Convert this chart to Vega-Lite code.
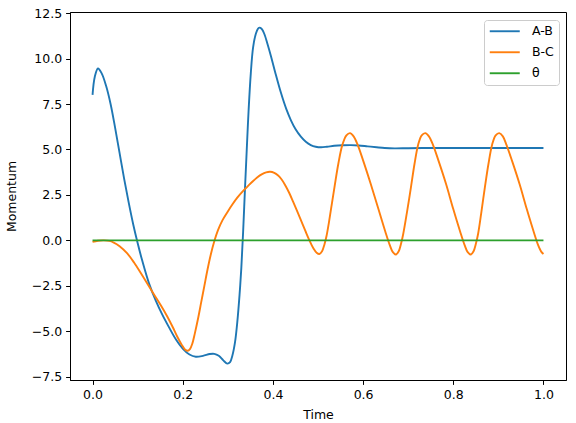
{
  "$schema": "https://vega.github.io/schema/vega-lite/v6.json",
  "width": 496,
  "height": 368,
  "autosize": "none",
  "padding": {"left": 70, "top": 12, "right": 10, "bottom": 43},
  "background": "white",
  "config": {
    "view": {"stroke": "black", "strokeWidth": 1},
    "axis": {
      "grid": false,
      "domainColor": "black",
      "domainWidth": 1,
      "tickColor": "black",
      "tickWidth": 1,
      "tickSize": 4.4,
      "labelFont": "DejaVu Sans",
      "labelFontSize": 12.5,
      "labelColor": "black",
      "labelPadding": 4,
      "titleFont": "DejaVu Sans",
      "titleFontSize": 12.5,
      "titleFontWeight": "normal",
      "titleColor": "black"
    },
    "legend": {
      "orient": "top-right",
      "offset": 7.5,
      "padding": 5,
      "strokeColor": "#cccccc",
      "strokeWidth": 1,
      "fillColor": "white",
      "cornerRadius": 3,
      "symbolType": "M-3,0H3",
      "symbolSize": 100,
      "symbolOffset": 9.5,
      "symbolStrokeWidth": 1.9,
      "labelFont": "DejaVu Sans",
      "labelFontSize": 12.5,
      "labelColor": "black",
      "labelOffset": 21,
      "rowPadding": 8
    }
  },
  "data": {
    "values": [
      {"t": 0, "v": 8.0, "s": "A-B"},
      {"t": 0.005, "v": 9.0, "s": "A-B"},
      {"t": 0.012, "v": 9.45, "s": "A-B"},
      {"t": 0.02, "v": 9.2, "s": "A-B"},
      {"t": 0.03, "v": 8.5, "s": "A-B"},
      {"t": 0.04, "v": 7.5, "s": "A-B"},
      {"t": 0.05, "v": 6.2, "s": "A-B"},
      {"t": 0.06, "v": 4.8, "s": "A-B"},
      {"t": 0.07, "v": 3.4, "s": "A-B"},
      {"t": 0.08, "v": 2.1, "s": "A-B"},
      {"t": 0.09, "v": 0.9, "s": "A-B"},
      {"t": 0.1, "v": -0.15, "s": "A-B"},
      {"t": 0.11, "v": -1.1, "s": "A-B"},
      {"t": 0.125, "v": -2.35, "s": "A-B"},
      {"t": 0.14, "v": -3.3, "s": "A-B"},
      {"t": 0.155, "v": -4.1, "s": "A-B"},
      {"t": 0.17, "v": -4.8, "s": "A-B"},
      {"t": 0.185, "v": -5.45, "s": "A-B"},
      {"t": 0.2, "v": -5.95, "s": "A-B"},
      {"t": 0.215, "v": -6.28, "s": "A-B"},
      {"t": 0.229, "v": -6.4, "s": "A-B"},
      {"t": 0.245, "v": -6.35, "s": "A-B"},
      {"t": 0.26, "v": -6.25, "s": "A-B"},
      {"t": 0.27, "v": -6.24, "s": "A-B"},
      {"t": 0.28, "v": -6.35, "s": "A-B"},
      {"t": 0.29, "v": -6.6, "s": "A-B"},
      {"t": 0.299, "v": -6.78, "s": "A-B"},
      {"t": 0.305, "v": -6.7, "s": "A-B"},
      {"t": 0.31, "v": -6.35, "s": "A-B"},
      {"t": 0.316, "v": -5.6, "s": "A-B"},
      {"t": 0.321, "v": -4.5, "s": "A-B"},
      {"t": 0.326, "v": -3.0, "s": "A-B"},
      {"t": 0.33, "v": -1.5, "s": "A-B"},
      {"t": 0.334, "v": 0.5, "s": "A-B"},
      {"t": 0.338, "v": 2.8, "s": "A-B"},
      {"t": 0.342, "v": 5.0, "s": "A-B"},
      {"t": 0.346, "v": 7.1, "s": "A-B"},
      {"t": 0.351, "v": 9.2, "s": "A-B"},
      {"t": 0.356, "v": 10.6, "s": "A-B"},
      {"t": 0.362, "v": 11.35, "s": "A-B"},
      {"t": 0.367, "v": 11.65, "s": "A-B"},
      {"t": 0.371, "v": 11.7, "s": "A-B"},
      {"t": 0.376, "v": 11.6, "s": "A-B"},
      {"t": 0.381, "v": 11.35, "s": "A-B"},
      {"t": 0.388, "v": 10.8, "s": "A-B"},
      {"t": 0.396, "v": 10.1, "s": "A-B"},
      {"t": 0.405, "v": 9.25, "s": "A-B"},
      {"t": 0.418, "v": 8.1, "s": "A-B"},
      {"t": 0.43, "v": 7.2, "s": "A-B"},
      {"t": 0.44, "v": 6.6, "s": "A-B"},
      {"t": 0.45, "v": 6.12, "s": "A-B"},
      {"t": 0.462, "v": 5.7, "s": "A-B"},
      {"t": 0.473, "v": 5.42, "s": "A-B"},
      {"t": 0.484, "v": 5.24, "s": "A-B"},
      {"t": 0.495, "v": 5.15, "s": "A-B"},
      {"t": 0.507, "v": 5.12, "s": "A-B"},
      {"t": 0.52, "v": 5.15, "s": "A-B"},
      {"t": 0.536, "v": 5.2, "s": "A-B"},
      {"t": 0.555, "v": 5.23, "s": "A-B"},
      {"t": 0.573, "v": 5.24, "s": "A-B"},
      {"t": 0.59, "v": 5.22, "s": "A-B"},
      {"t": 0.61, "v": 5.17, "s": "A-B"},
      {"t": 0.63, "v": 5.12, "s": "A-B"},
      {"t": 0.648, "v": 5.08, "s": "A-B"},
      {"t": 0.67, "v": 5.06, "s": "A-B"},
      {"t": 0.7, "v": 5.07, "s": "A-B"},
      {"t": 0.75, "v": 5.08, "s": "A-B"},
      {"t": 0.8, "v": 5.08, "s": "A-B"},
      {"t": 0.85, "v": 5.08, "s": "A-B"},
      {"t": 0.9, "v": 5.08, "s": "A-B"},
      {"t": 0.95, "v": 5.08, "s": "A-B"},
      {"t": 1.0, "v": 5.08, "s": "A-B"},

      {"t": 0, "v": -0.08, "s": "B-C"},
      {"t": 0.012, "v": -0.02, "s": "B-C"},
      {"t": 0.025, "v": 0.0, "s": "B-C"},
      {"t": 0.037, "v": -0.03, "s": "B-C"},
      {"t": 0.047, "v": -0.12, "s": "B-C"},
      {"t": 0.06, "v": -0.32, "s": "B-C"},
      {"t": 0.077, "v": -0.72, "s": "B-C"},
      {"t": 0.092, "v": -1.22, "s": "B-C"},
      {"t": 0.107, "v": -1.8, "s": "B-C"},
      {"t": 0.122, "v": -2.4, "s": "B-C"},
      {"t": 0.137, "v": -3.0, "s": "B-C"},
      {"t": 0.152, "v": -3.6, "s": "B-C"},
      {"t": 0.166, "v": -4.2, "s": "B-C"},
      {"t": 0.178, "v": -4.78, "s": "B-C"},
      {"t": 0.188, "v": -5.3, "s": "B-C"},
      {"t": 0.198, "v": -5.75, "s": "B-C"},
      {"t": 0.205, "v": -6.0, "s": "B-C"},
      {"t": 0.211, "v": -6.07, "s": "B-C"},
      {"t": 0.216, "v": -5.98, "s": "B-C"},
      {"t": 0.221, "v": -5.7, "s": "B-C"},
      {"t": 0.227, "v": -5.1, "s": "B-C"},
      {"t": 0.234, "v": -4.3, "s": "B-C"},
      {"t": 0.241, "v": -3.4, "s": "B-C"},
      {"t": 0.248, "v": -2.5, "s": "B-C"},
      {"t": 0.255, "v": -1.6, "s": "B-C"},
      {"t": 0.262, "v": -0.8, "s": "B-C"},
      {"t": 0.27, "v": -0.05, "s": "B-C"},
      {"t": 0.278, "v": 0.55, "s": "B-C"},
      {"t": 0.288, "v": 1.1, "s": "B-C"},
      {"t": 0.299, "v": 1.55, "s": "B-C"},
      {"t": 0.31, "v": 1.97, "s": "B-C"},
      {"t": 0.321, "v": 2.35, "s": "B-C"},
      {"t": 0.333, "v": 2.7, "s": "B-C"},
      {"t": 0.344, "v": 2.97, "s": "B-C"},
      {"t": 0.355, "v": 3.24, "s": "B-C"},
      {"t": 0.365, "v": 3.46, "s": "B-C"},
      {"t": 0.375, "v": 3.63, "s": "B-C"},
      {"t": 0.385, "v": 3.74, "s": "B-C"},
      {"t": 0.394, "v": 3.77, "s": "B-C"},
      {"t": 0.403, "v": 3.71, "s": "B-C"},
      {"t": 0.411, "v": 3.58, "s": "B-C"},
      {"t": 0.419, "v": 3.36, "s": "B-C"},
      {"t": 0.427, "v": 3.05, "s": "B-C"},
      {"t": 0.436, "v": 2.62, "s": "B-C"},
      {"t": 0.445, "v": 2.12, "s": "B-C"},
      {"t": 0.454, "v": 1.6, "s": "B-C"},
      {"t": 0.463, "v": 1.06, "s": "B-C"},
      {"t": 0.472, "v": 0.52, "s": "B-C"},
      {"t": 0.481, "v": 0.0, "s": "B-C"},
      {"t": 0.49, "v": -0.45, "s": "B-C"},
      {"t": 0.497, "v": -0.68, "s": "B-C"},
      {"t": 0.503, "v": -0.75, "s": "B-C"},
      {"t": 0.509, "v": -0.6, "s": "B-C"},
      {"t": 0.514, "v": -0.25, "s": "B-C"},
      {"t": 0.519, "v": 0.25, "s": "B-C"},
      {"t": 0.524, "v": 0.95, "s": "B-C"},
      {"t": 0.53, "v": 1.9, "s": "B-C"},
      {"t": 0.537, "v": 3.0, "s": "B-C"},
      {"t": 0.545, "v": 4.2, "s": "B-C"},
      {"t": 0.554, "v": 5.25, "s": "B-C"},
      {"t": 0.563, "v": 5.78, "s": "B-C"},
      {"t": 0.571, "v": 5.9, "s": "B-C"},
      {"t": 0.579, "v": 5.72, "s": "B-C"},
      {"t": 0.588, "v": 5.25, "s": "B-C"},
      {"t": 0.6, "v": 4.4, "s": "B-C"},
      {"t": 0.617, "v": 3.1, "s": "B-C"},
      {"t": 0.634, "v": 1.72, "s": "B-C"},
      {"t": 0.649, "v": 0.5, "s": "B-C"},
      {"t": 0.659, "v": -0.25, "s": "B-C"},
      {"t": 0.666, "v": -0.65, "s": "B-C"},
      {"t": 0.673, "v": -0.78, "s": "B-C"},
      {"t": 0.679, "v": -0.6, "s": "B-C"},
      {"t": 0.684, "v": -0.2, "s": "B-C"},
      {"t": 0.689, "v": 0.35, "s": "B-C"},
      {"t": 0.697, "v": 1.5, "s": "B-C"},
      {"t": 0.706, "v": 2.9, "s": "B-C"},
      {"t": 0.714, "v": 4.2, "s": "B-C"},
      {"t": 0.722, "v": 5.25, "s": "B-C"},
      {"t": 0.73, "v": 5.78, "s": "B-C"},
      {"t": 0.738, "v": 5.9, "s": "B-C"},
      {"t": 0.746, "v": 5.72, "s": "B-C"},
      {"t": 0.755, "v": 5.25, "s": "B-C"},
      {"t": 0.767, "v": 4.4, "s": "B-C"},
      {"t": 0.784, "v": 3.1, "s": "B-C"},
      {"t": 0.8, "v": 1.72, "s": "B-C"},
      {"t": 0.815, "v": 0.5, "s": "B-C"},
      {"t": 0.825, "v": -0.25, "s": "B-C"},
      {"t": 0.832, "v": -0.65, "s": "B-C"},
      {"t": 0.839, "v": -0.78, "s": "B-C"},
      {"t": 0.845, "v": -0.6, "s": "B-C"},
      {"t": 0.85, "v": -0.2, "s": "B-C"},
      {"t": 0.855, "v": 0.35, "s": "B-C"},
      {"t": 0.862, "v": 1.5, "s": "B-C"},
      {"t": 0.87, "v": 2.9, "s": "B-C"},
      {"t": 0.878, "v": 4.2, "s": "B-C"},
      {"t": 0.886, "v": 5.25, "s": "B-C"},
      {"t": 0.894, "v": 5.78, "s": "B-C"},
      {"t": 0.902, "v": 5.9, "s": "B-C"},
      {"t": 0.91, "v": 5.72, "s": "B-C"},
      {"t": 0.918, "v": 5.25, "s": "B-C"},
      {"t": 0.93, "v": 4.4, "s": "B-C"},
      {"t": 0.947, "v": 3.1, "s": "B-C"},
      {"t": 0.963, "v": 1.72, "s": "B-C"},
      {"t": 0.978, "v": 0.5, "s": "B-C"},
      {"t": 0.988, "v": -0.25, "s": "B-C"},
      {"t": 0.995, "v": -0.62, "s": "B-C"},
      {"t": 1.0, "v": -0.75, "s": "B-C"},

      {"t": 0, "v": 0.0, "s": "θ"},
      {"t": 0.25, "v": 0.0, "s": "θ"},
      {"t": 0.5, "v": 0.0, "s": "θ"},
      {"t": 0.75, "v": 0.0, "s": "θ"},
      {"t": 1.0, "v": 0.0, "s": "θ"}
    ]
  },
  "mark": {"type": "line", "strokeWidth": 1.9, "interpolate": "catmull-rom", "clip": true},
  "encoding": {
    "x": {
      "field": "t",
      "type": "quantitative",
      "title": "Time",
      "scale": {"domain": [-0.05, 1.05], "nice": false, "zero": false},
      "axis": {"values": [0, 0.2, 0.4, 0.6, 0.8, 1.0], "format": ".1f", "titlePadding": 8}
    },
    "y": {
      "field": "v",
      "type": "quantitative",
      "title": "Momentum",
      "scale": {"domain": [-7.68, 12.56], "nice": false, "zero": false},
      "axis": {"values": [-7.5, -5, -2.5, 0, 2.5, 5, 7.5, 10, 12.5], "format": ".1f", "titlePadding": 13}
    },
    "color": {
      "field": "s",
      "type": "nominal",
      "title": null,
      "scale": {"domain": ["A-B", "B-C", "θ"], "range": ["#1f77b4", "#ff7f0e", "#2ca02c"]},
      "legend": {"labelExpr": "datum.label == 'B-C' ? '\u00a0B-C' : datum.label"}
    }
  }
}
